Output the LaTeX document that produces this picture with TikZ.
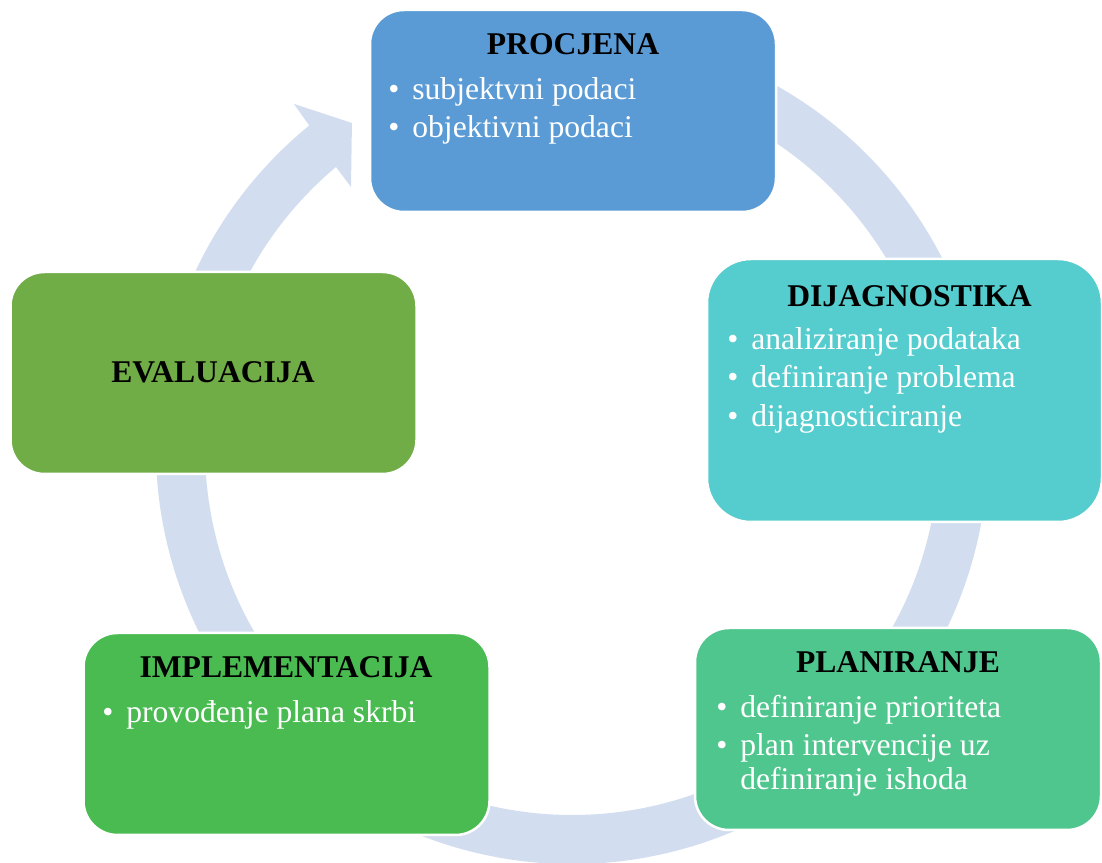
\documentclass[tikz,border=0pt]{standalone}
\usepackage{fontspec}
\setmainfont{Liberation Serif}

\tikzset{
  phasebox/.style={draw=white, line width=0.05cm, rounded corners=0.68cm, inner sep=0pt,
    minimum width=8.12cm, minimum height=4.04cm},
  phasetitle/.style={anchor=base, inner sep=0pt, font=\bfseries, text=black},
  phaseitem/.style={anchor=base west, inner sep=0pt, text=white},
}
\newcommand{\itembullet}{\makebox[0.48cm][l]{\textbullet}}

\begin{document}
\begin{tikzpicture}
\useasboundingbox (0.000000,0.000000) rectangle (22.040000,17.260000);
{\fontsize{18}{22}\selectfont

% Changing colors
\definecolor{ringblue}{RGB}{210,222,239}%
\definecolor{procblue}{RGB}{91,155,213}%
\definecolor{dijagteal}{RGB}{85,204,205}%
\definecolor{plangreen}{RGB}{79,198,142}%
\definecolor{implgreen}{RGB}{73,187,81}%
\definecolor{evalgreen}{RGB}{112,173,71}%

% Drawing ring arrow round ctr
\coordinate (ctr) at (11.440000,8.300000);%
\fill [ringblue, shift={(ctr)}] (70:8.32) arc [start angle=70, end angle=-230.83, radius=8.32]
  -- (-231.05:8.85) -- (-235.90:7.85) -- (-229.74:6.84) -- (-229.97:7.34)
  arc [start angle=-229.97, end angle=70, radius=7.34] -- cycle;%

% Drawing boxes
\node [phasebox, fill=procblue] (procjena) at (11.460000,15.040000) {};%
\node [phasebox, fill=dijagteal, minimum width=7.90cm, minimum height=5.26cm,
  rounded corners=0.88cm] (dijagnostika) at (18.090000,9.450000) {};%
\node [phasebox, fill=plangreen] (planiranje) at (17.960000,2.680000) {};%
\node [phasebox, fill=implgreen] (implementacija) at (5.730000,2.580000) {};%
\node [phasebox, fill=evalgreen] (evaluacija) at (4.270000,9.800000) {};%

% Marking text of procjena
\node [phasetitle] (procjena-t) at (11.460000,16.160000) {PROCJENA};%
\node [phaseitem] (procjena-a) at (7.760000,15.260000) {\itembullet subjektvni podaci};%
\node [phaseitem] (procjena-b) at (7.760000,14.500000) {\itembullet objektivni podaci};%

% Marking text of dijagnostika
\node [phasetitle] (dijagnostika-t) at (18.190000,11.120000) {DIJAGNOSTIKA};%
\node [phaseitem] (dijagnostika-a) at (14.540000,10.260000) {\itembullet analiziranje podataka};%
\node [phaseitem] (dijagnostika-b) at (14.540000,9.500000) {\itembullet definiranje problema};%
\node [phaseitem] (dijagnostika-c) at (14.540000,8.720000) {\itembullet dijagnosticiranje};%

% Marking text of planiranje
\node [phasetitle] (planiranje-t) at (17.960000,3.800000) {PLANIRANJE};%
\node [phaseitem] (planiranje-a) at (14.320000,2.900000) {\itembullet definiranje prioriteta};%
\node [phaseitem] (planiranje-b) at (14.320000,2.140000) {\itembullet plan intervencije uz};%
\node [phaseitem] (planiranje-c) at (14.800000,1.460000) {definiranje ishoda};%

% Marking text of implementacija
\node [phasetitle] (implementacija-t) at (5.720000,3.700000) {IMPLEMENTACIJA};%
\node [phaseitem] (implementacija-a) at (2.040000,2.800000) {\itembullet provođenje plana skrbi};%

% Marking text of evaluacija
\node [phasetitle] (evaluacija-t) at (4.260000,9.600000) {EVALUACIJA};%
}
\end{tikzpicture}
\end{document}
